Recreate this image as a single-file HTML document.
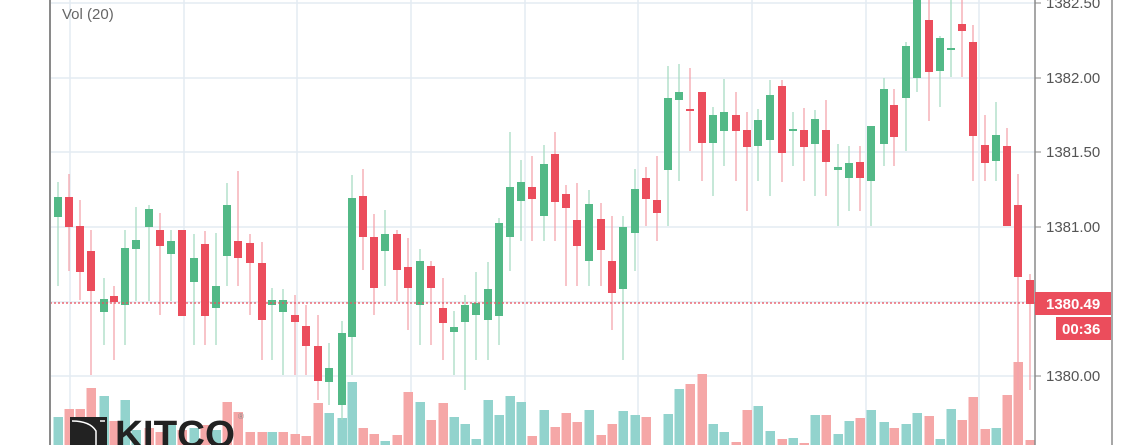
<!DOCTYPE html>
<html><head><meta charset="utf-8"><style>
html,body{margin:0;padding:0;background:#fff;width:1140px;height:445px;overflow:hidden}
svg{display:block}
text{font-family:"Liberation Sans",sans-serif}
</style></head><body>
<svg id="s" width="1140" height="445" xmlns="http://www.w3.org/2000/svg">
<rect width="1140" height="445" fill="#fff"/>
<g id="grid" stroke="#e3ebf2" stroke-width="1.5"></g>
<g id="vol"></g>
<g id="cdl"></g>
<line x1="50" y1="303" x2="1035" y2="303" stroke="#eb4d5c" stroke-width="1.2" stroke-dasharray="2,2"/>
<line x1="50" y1="0" x2="50" y2="445" stroke="#8a8a8a" stroke-width="2"/>
<line x1="1035" y1="0" x2="1035" y2="445" stroke="#8a8a8a" stroke-width="1.5"/>
<line x1="1112" y1="0" x2="1112" y2="445" stroke="#8a8a8a" stroke-width="1.5"/>
<g id="axis" fill="#555" font-size="15"></g>
<rect x="1035" y="292" width="76" height="23" fill="#eb4d5c"/>
<text x="1046" y="309" fill="#fff" font-size="15" font-weight="bold">1380.49</text>
<rect x="1056" y="317" width="55" height="23" fill="#eb4d5c"/>
<text x="1062" y="334" fill="#fff" font-size="15" font-weight="bold">00:36</text>
<text x="62" y="19" fill="#666" font-size="15">Vol (20)</text>
<g>
<rect x="70" y="417" width="37" height="28" fill="#222"/>
<path d="M72 421 Q90 421 96 431 L96 445 M100 421 L105 421" stroke="#fff" stroke-width="1.5" fill="none"/>
<text x="115" y="447" fill="#222" font-size="38" font-weight="bold" textLength="120" lengthAdjust="spacingAndGlyphs">KITCO</text>
<text x="238" y="419" fill="#888" font-size="8">®</text>
</g>
</svg>
<script>
const NS="http://www.w3.org/2000/svg";
function el(p,t,a){const e=document.createElementNS(NS,t);for(const k in a)e.setAttribute(k,a[k]);document.getElementById(p).appendChild(e);return e;}
[3,78,152,227,302,376].forEach(y=>el("grid","line",{x1:50,x2:1035,y1:y,y2:y}));
[70,184,297,411,525,638,752,866,979].forEach(x=>el("grid","line",{x1:x,x2:x,y1:0,y2:445}));
[["1382.50",3],["1382.00",78],["1381.50",152],["1381.00",227],["1380.00",376]].forEach(([t,y])=>{
 el("axis","line",{x1:1035,x2:1041,y1:y,y2:y,stroke:"#8a8a8a"});
 const e=el("axis","text",{x:1046,y:y+5});e.textContent=t;});
const C=[
[58,'g',197,217,182,286],[69,'r',197,227,174,271],[80,'r',226,272,200,300],[91,'r',251,291,230,375],
[104,'g',299,312,278,345],[114,'r',296,302,286,360],[125,'g',248,305,230,345],[136,'g',240,249,207,301],
[149,'g',209,227,205,301],[160,'r',230,246,213,315],[171,'g',241,254,230,301],[182,'r',230,316,230,316],
[194,'g',258,282,234,345],[205,'r',244,316,231,345],[216,'g',286,308,233,345],[227,'g',205,256,183,286],
[238,'r',241,258,171,286],[250,'r',243,263,234,315],[262,'r',263,320,242,360],[272,'g',300,305,288,360],
[283,'g',300,312,289,375],[295,'r',315,322,295,375],[306,'r',326,346,305,375],[318,'r',346,381,315,400],
[329,'g',368,382,343,405],[342,'g',333,405,321,420],[352,'g',198,337,175,375],[363,'r',196,237,169,270],
[374,'r',237,288,214,315],[385,'g',234,251,210,286],[397,'r',234,270,230,301],[408,'r',267,288,238,330],
[420,'g',261,305,249,345],[431,'r',266,288,261,345],[443,'r',308,323,278,360],[454,'g',327,332,311,375],
[465,'g',305,322,295,390],[476,'g',303,315,272,360],[488,'g',289,320,262,360],[499,'g',223,316,218,345],
[510,'g',187,237,132,271],[521,'g',182,201,160,241],[532,'r',187,199,156,241],[544,'g',164,216,145,241],
[555,'r',154,202,132,241],[566,'r',194,208,185,286],[577,'r',220,246,183,286],[589,'g',204,261,190,286],
[601,'r',219,250,203,286],[612,'r',261,293,216,330],[623,'g',227,289,216,360],[635,'g',189,233,169,271],
[646,'r',178,199,167,226],[657,'r',200,213,156,241],[668,'g',98,170,66,226],[679,'g',92,100,64,181],
[690,'r',109,110,68,151],[702,'r',92,143,92,181],[713,'g',115,143,107,196],[724,'g',112,131,79,166],
[736,'r',115,131,92,181],[747,'r',130,147,112,211],[758,'g',120,146,109,181],[770,'g',95,140,80,196],
[782,'r',86,153,80,182],[793,'g',129,131,112,166],[804,'r',130,147,108,181],[815,'g',119,144,110,196],
[826,'r',130,162,100,196],[838,'g',167,170,144,226],[849,'g',163,178,146,211],[860,'r',162,178,146,211],
[871,'g',126,181,126,226],[884,'g',89,144,78,166],[894,'r',105,137,89,166],[906,'g',46,98,42,151],
[917,'g',0,78,0,92],[929,'r',20,72,0,121],[940,'g',38,71,36,107],[951,'g',48,50,0,77],
[962,'r',24,31,0,77],[973,'r',42,136,25,181],[985,'r',145,163,115,181],[996,'g',135,161,102,181],
[1007,'r',146,226,128,226],[1018,'r',205,277,174,390],[1030,'r',280,304,274,390]];
const V=[[58,'g',417],[69,'r',409],[80,'r',409],[91,'r',388],[104,'g',396],[114,'r',421],[125,'g',400],
[136,'g',430],[149,'r',428],[160,'r',432],[171,'g',425],[182,'r',430],[194,'g',428],[205,'r',425],[216,'g',430],
[227,'r',402],[238,'r',412],[250,'r',432],[262,'r',432],[272,'g',432],[283,'r',432],[295,'r',434],[306,'r',436],
[318,'r',403],[329,'g',413],[342,'g',418],[352,'g',382],[363,'r',428],[374,'r',434],[385,'g',441],[397,'r',435],
[408,'r',392],[420,'g',402],[431,'r',420],[443,'r',403],[454,'g',417],[465,'g',424],[476,'g',439],[488,'g',400],
[499,'g',415],[510,'g',396],[521,'g',402],[532,'r',436],[544,'g',410],[555,'r',427],[566,'r',413],[577,'r',422],
[589,'g',410],[601,'r',435],[612,'r',424],[623,'g',411],[635,'g',415],[646,'r',417],[668,'g',414],[679,'g',389],
[690,'r',384],[702,'r',374],[713,'g',424],[724,'g',432],[736,'r',442],[747,'r',410],[758,'g',406],[770,'g',431],
[782,'r',439],[793,'g',438],[804,'r',443],[815,'g',415],[826,'r',415],[838,'g',434],[849,'g',421],[860,'r',418],
[871,'g',410],[884,'g',422],[894,'r',428],[906,'g',424],[917,'g',413],[929,'r',416],[940,'g',439],[951,'g',409],
[962,'r',420],[973,'r',397],[985,'r',429],[996,'g',428],[1007,'r',395],[1018,'r',362],[1030,'r',440]];
V.forEach(([x,c,t])=>el("vol","rect",{x:x-4.5,y:t,width:9.5,height:445-t,fill:c=='g'?'#92d3cd':'#f5a7a7'}));
C.forEach(([x,c,bt,bb,wt,wb])=>{
 el("cdl","line",{x1:x,x2:x,y1:wt,y2:wb,stroke:c=='g'?'#a8dcc2':'#f4a3ac','stroke-width':1.3});
 el("cdl","rect",{x:x-4,y:bt,width:8,height:Math.max(2,bb-bt),fill:c=='g'?'#53b987':'#eb4d5c'});
});
</script>
</body></html>
